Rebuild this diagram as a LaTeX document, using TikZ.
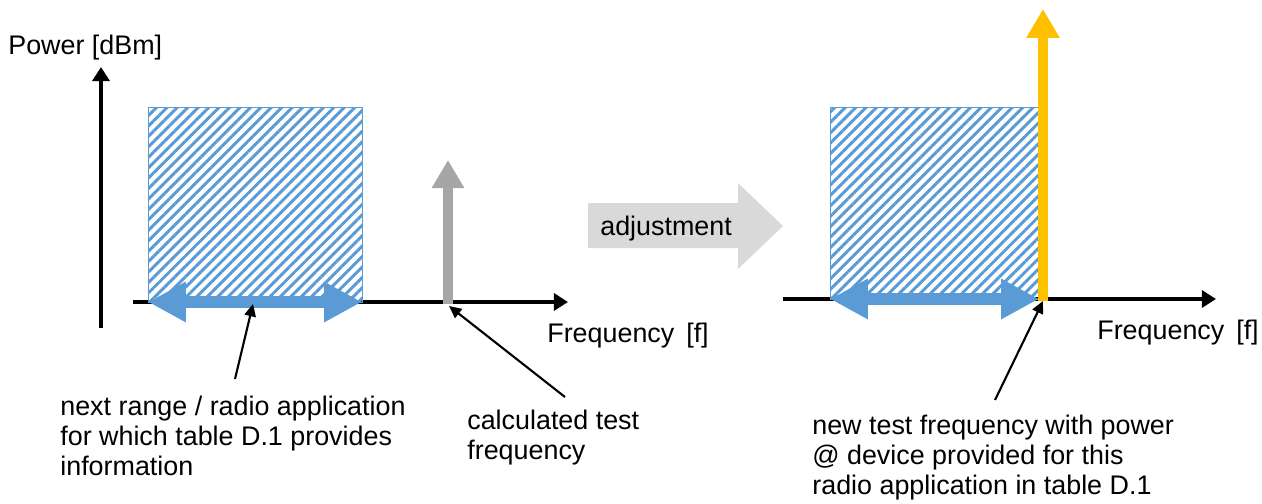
\documentclass[tikz,border=0pt]{standalone}
\usepackage{fontspec}
\setmainfont{Liberation Sans}
\usetikzlibrary{arrows.meta,patterns.meta}
\definecolor{bandblue}{HTML}{5B9BD5}
\definecolor{peakgray}{HTML}{A6A6A6}
\definecolor{stepgray}{HTML}{D9D9D9}
\definecolor{peakyellow}{HTML}{FFC000}
\begin{document}
\begin{tikzpicture}[
    x=0.02cm,
    y=-0.02cm,
    every node/.style={inner sep=0pt,font=\fontsize{15.3pt}{17pt}\selectfont},
    axis line/.style={line width=2.8pt,-{Triangle[length=8pt,width=9.6pt]}},
    band/.style={draw=bandblue,line width=0.5pt,pattern={Lines[angle=45,distance=4.2pt,line width=1.7pt]},pattern color=bandblue},
    range arrow/.style={bandblue,line width=7.2pt,{Triangle[length=21.5pt,width=21.5pt]}-{Triangle[length=21.5pt,width=21.5pt]}},
    test arrow/.style={line width=5.5pt,-{Triangle[length=16pt,width=17.5pt]}},
    pointer/.style={line width=1.2pt,-{Triangle[length=7pt,width=6.5pt]}},
    label text/.style={align=left,anchor=north west}]

  \useasboundingbox (0,0) rectangle (1262,504);

  \coordinate (YAxisL0) at (101,328);
  \coordinate (YAxisL1) at (101,67);
  \coordinate (XAxisL0) at (133,302);
  \coordinate (XAxisL1) at (568,302);
  \coordinate (BandL0) at (148,302);
  \coordinate (BandL1) at (362,107);
  \coordinate (CalcFreq) at (448,302);
  \coordinate (CalcTop) at (448,160);

  \coordinate (XAxisR0) at (783,299);
  \coordinate (XAxisR1) at (1216,299);
  \coordinate (BandR0) at (830,299);
  \coordinate (BandR1) at (1039,107);
  \coordinate (NewFreq) at (1043,299);
  \coordinate (NewTop) at (1043,9);

  \node[anchor=base west] (PowerLabel) at (8,54) {Power [dBm]};
  \node[anchor=base west] (FreqLabelL) at (547,342) {Frequency\, [f]};
  \node[anchor=base west] (FreqLabelR) at (1097,339) {Frequency\, [f]};

  \draw[axis line] (YAxisL0) -- (YAxisL1);
  \draw[axis line] (XAxisL0) -- (XAxisL1);
  \draw[band] (BandL0) rectangle (BandL1);
  \draw[range arrow] (BandL0 |- XAxisL0) -- (BandL1 |- XAxisL0);
  \draw[test arrow,peakgray] ([yshift=-1.4pt]CalcFreq) -- (CalcTop);

  \draw[axis line] (XAxisR0) -- (XAxisR1);
  \draw[band] (BandR0) rectangle (BandR1);
  \draw[range arrow] (BandR0) -- (BandR1 |- BandR0);
  \draw[test arrow,peakyellow,-{Triangle[length=16.5pt,width=18pt]}] ([yshift=-1.4pt]NewFreq) -- (NewTop);

  \fill[stepgray] (588,203) -- (738,203) -- (738,183) -- (783,226)
    -- (738,269) -- (738,248) -- (588,248) -- cycle;
  \node[anchor=base west] (StepLabel) at (600,235) {adjustment};

  \node[label text] (RangeText) at (60,396) {next range / radio application\\for which table D.1 provides\\information};
  \node[label text] (CalcText) at (467,410) {calculated test\\frequency};
  \node[label text] (NewText) at (812,415) {new test frequency with power\\@ device provided for this\\radio application in table D.1};

  \coordinate (RangeTail) at (235,379);
  \coordinate (CalcTail) at (565,397);
  \coordinate (NewTail) at (995,400);

  \draw[pointer] (RangeTail) -- (253,304);
  \draw[pointer] (CalcTail) -- ([shift={(1,4)}]CalcFreq);
  \draw[pointer] (NewTail) -- ([shift={(0,2)}]NewFreq);
\end{tikzpicture}
\end{document}
